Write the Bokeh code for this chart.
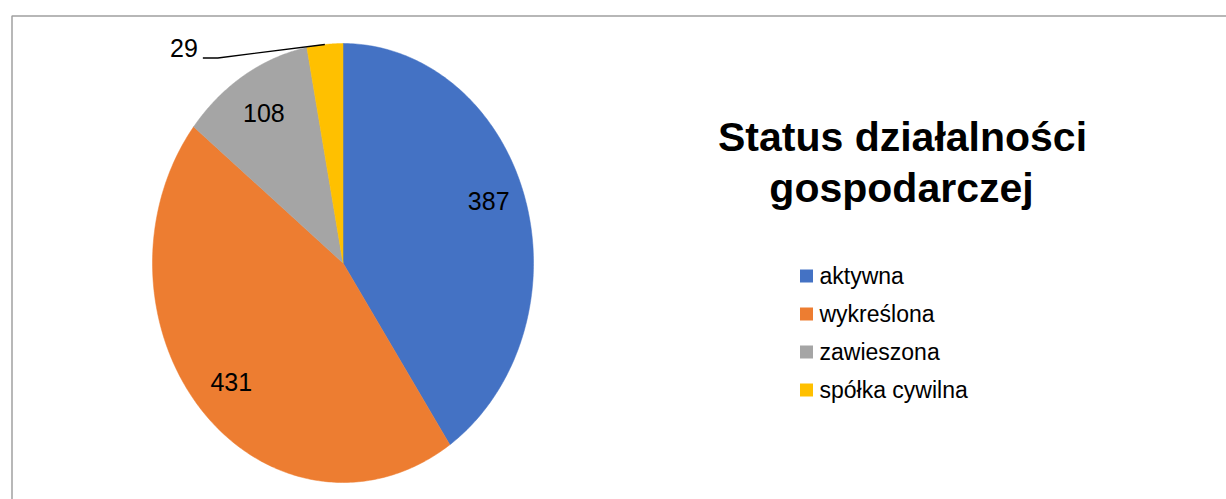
import numpy as np
from bokeh.plotting import figure
from bokeh.models import Range1d
from bokeh.core.properties import value
from bokeh.embed import file_html
from bokeh.resources import INLINE

# ---- data ----
categories = ["aktywna", "wykreślona", "zawieszona", "spółka cywilna"]
counts = [387, 431, 108, 29]
colors = ["#4472C4", "#ED7D31", "#A5A5A5", "#FFC000"]
title_lines = ["Status działalności", "gospodarczej"]

# ---- layout (page pixel coordinates) ----
W, H = 1226, 499
CX, CY = 342.5, 262.5      # pie centre
RX, RY = 190.5, 219.5      # pie radii (reference picture is stretched vertically)
LABEL_F = 0.8
FONT = value("Liberation Sans")

p = figure(width=W, height=H, x_range=Range1d(0, W), y_range=Range1d(H, 0),
           output_backend="svg", toolbar_location=None, min_border=0)
p.axis.visible = False
p.grid.visible = False
p.outline_line_color = None
p.background_fill_color = "white"
p.border_fill_color = "white"

# chart border (left and top visible in reference)
p.line([11.5, 11.5, W], [H, 15.5, 15.5], line_color="#a0a0a0", line_width=1.5)

total = float(sum(counts))
fracs = np.array(counts) / total
ends = np.cumsum(fracs) * 2 * np.pi
starts = ends - fracs * 2 * np.pi
mids = (starts + ends) / 2

xs, ys = [], []
for a0, a1 in zip(starts, ends):
    t = np.linspace(a0, a1, 200)
    xs.append([CX] + list(CX + RX * np.sin(t)) + [CX])
    ys.append([CY] + list(CY - RY * np.cos(t)) + [CY])

p.patches(xs, ys, fill_color=colors, line_color=colors, line_width=0.5)

# data labels inside slices (last one outside with leader line)
nudge_y = [-10, 0, 0, 0]
lx = [CX + RX * LABEL_F * np.sin(m) for m in mids[:3]]
ly = [CY - RY * LABEL_F * np.cos(m) + d for m, d in zip(mids[:3], nudge_y[:3])]
p.text(lx, ly, text=[str(c) for c in counts[:3]], text_align="center", text_baseline="middle",
       text_font=FONT, text_font_size="25px", text_color="black")

# outside label for small slice
ex = CX + RX * np.sin(mids[3])
ey = CY - RY * np.cos(mids[3])
p.line([ex, ex - 107, ex - 122], [ey, ey + 13.5, ey + 13.5], line_color="black", line_width=1.3)
p.text([ex - 127], [ey + 4], text=[str(counts[3])], text_align="right", text_baseline="middle",
       text_font=FONT, text_font_size="25px", text_color="black")

# title
p.text([902, 901], [136, 187], text=title_lines, text_align="center", text_baseline="middle",
       text_font=FONT, text_font_size="41px", text_font_style="bold", text_color="black")

# legend
rows = [275.5, 313.5, 351.5, 389.5]
p.scatter([806] * 4, rows, marker="square", size=13, fill_color=colors, line_color=None)
p.text([819] * 4, rows, text=categories, text_align="left", text_baseline="middle",
       text_font=FONT, text_font_size="23px", text_color="black")

open("out.html", "w").write(file_html(p, INLINE))
